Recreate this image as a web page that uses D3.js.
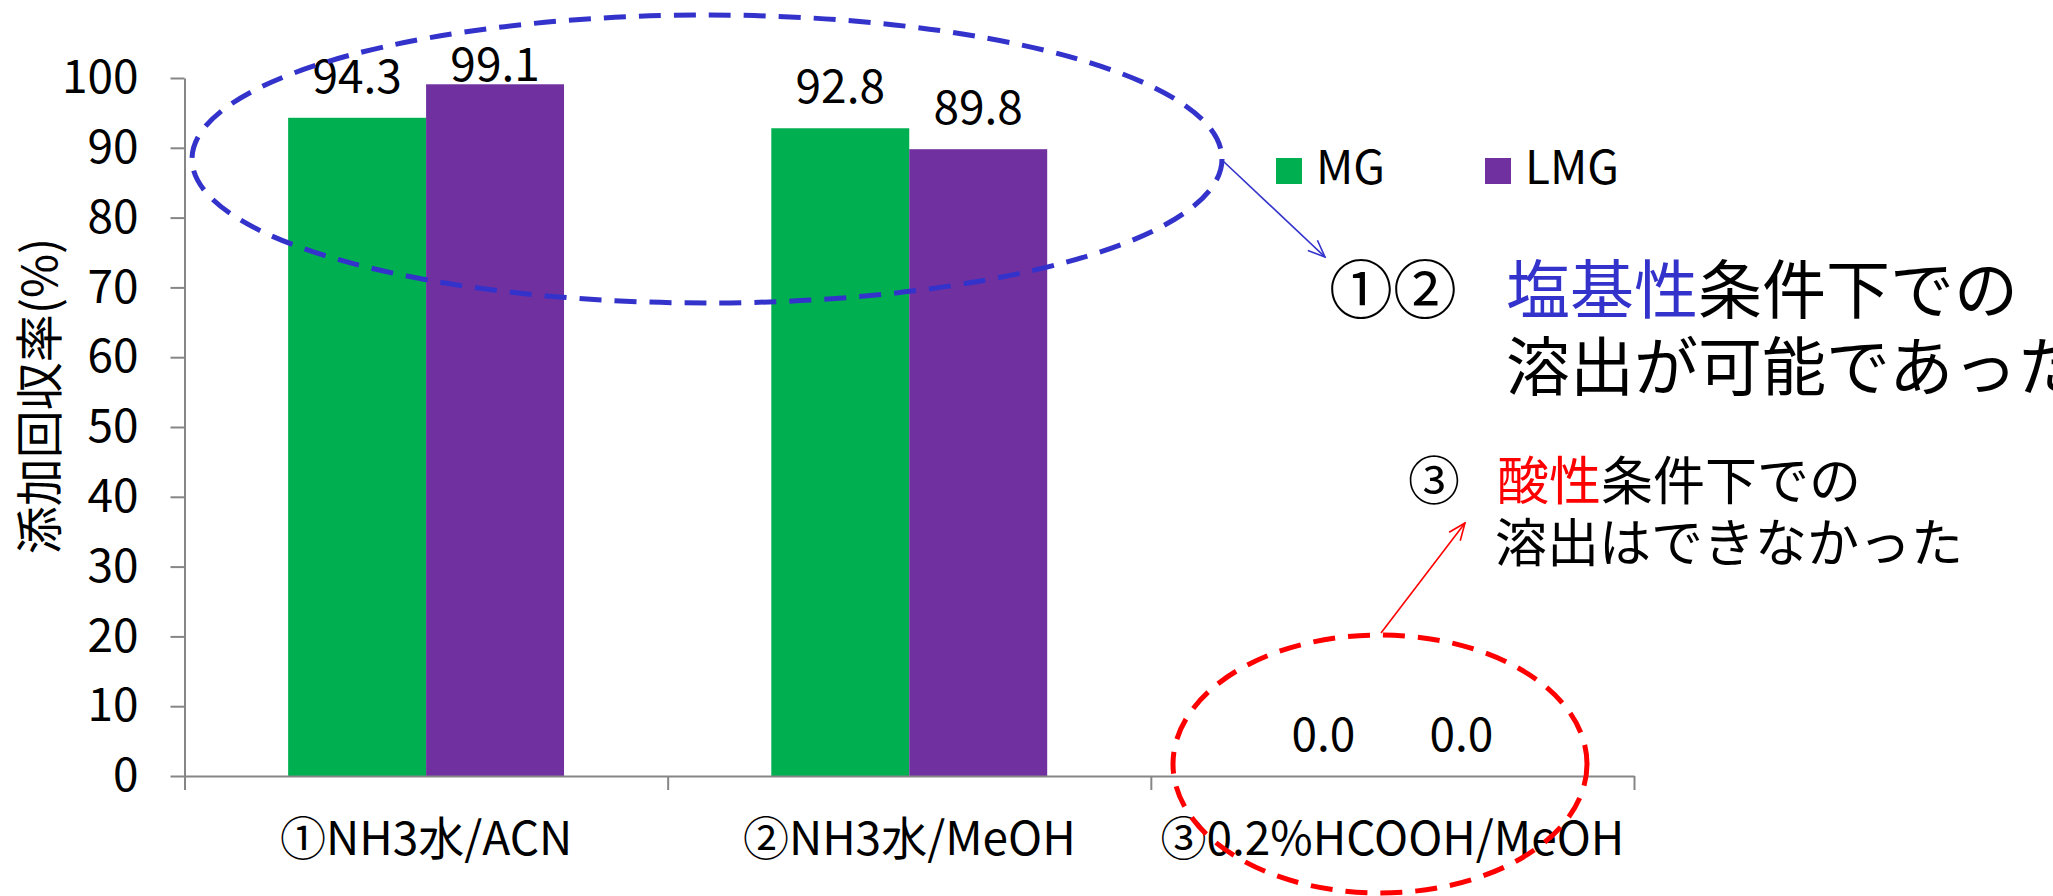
<!DOCTYPE html>
<html>
<head>
<meta charset="utf-8">
<script src="https://cdn.jsdelivr.net/npm/d3@7"></script>
<style>
  body { margin: 0; background: #fff; }
  text { font-family: "Noto Sans CJK JP", "Noto Sans", sans-serif; }
</style>
</head>
<body>
<script>
// data
var categories = ["①NH3水/ACN", "②NH3水/MeOH", "③0.2%HCOOH/MeOH"];
var seriesNames = ["MG", "LMG"];
var mgValues = [94.3, 92.8, 0.0];
var lmgValues = [99.1, 89.8, 0.0];
var yTickValues = [0, 10, 20, 30, 40, 50, 60, 70, 80, 90, 100];
var yTitle = "添加回収率(%)";

var colors = { MG: "#00B050", LMG: "#7030A0" };

var width = 2053, height = 896;

var svg = d3.select("body").append("svg")
    .attr("width", width)
    .attr("height", height);

// scales
var y = d3.scaleLinear().domain([0, 100]).range([776, 78]);

var x0 = d3.scaleBand()
    .domain(categories)
    .range([184.5, 1634]);

var bw = x0.bandwidth();
var x1 = d3.scaleBand()
    .domain(seriesNames)
    .range([bw * 0.2145, bw * 0.7855]);

var rows = categories.map(function(c, i) {
    return { cat: c, values: [
        { name: "MG", value: mgValues[i] },
        { name: "LMG", value: lmgValues[i] }
    ]};
});

// bars
var groups = svg.selectAll("g.group")
    .data(rows)
    .enter().append("g")
    .attr("class", "group")
    .attr("transform", function(d) { return "translate(" + x0(d.cat) + ",0)"; });

groups.selectAll("rect")
    .data(function(d) { return d.values; })
    .enter().append("rect")
    .attr("x", function(d) { return x1(d.name); })
    .attr("y", function(d) { return y(d.value); })
    .attr("width", x1.bandwidth())
    .attr("height", function(d) { return y(0) - y(d.value); })
    .attr("fill", function(d) { return colors[d.name]; });

// value labels (kept inside the chart area at the top)
groups.selectAll("text.val")
    .data(function(d) { return d.values; })
    .enter().append("text")
    .attr("class", "val")
    .attr("x", function(d) { return x1(d.name) + x1.bandwidth() / 2; })
    .attr("y", function(d) { return Math.max(y(d.value) - 25, 81); })
    .attr("text-anchor", "middle")
    .attr("font-size", 46)
    .text(function(d) { return d.value.toFixed(1); });

// y axis
var yAxis = svg.append("g")
    .attr("transform", "translate(184.5,0)")
    .call(d3.axisLeft(y).tickValues(yTickValues).tickSize(14).tickSizeOuter(0).tickPadding(32));
yAxis.selectAll("text").attr("font-size", 46).attr("fill", "#000")
    .style("font-family", '"Noto Sans CJK JP", sans-serif');

// x axis: boundary ticks
var xb = d3.scaleLinear().domain([0, categories.length]).range(x0.range());
var xAxis = svg.append("g")
    .attr("transform", "translate(0," + y(0) + ")")
    .call(d3.axisBottom(xb).tickValues(d3.range(0, categories.length + 1)).tickSize(14).tickSizeOuter(0).tickFormat(""));

// x axis: category labels
var xLabels = svg.append("g")
    .attr("transform", "translate(0," + y(0) + ")")
    .call(d3.axisBottom(x0).tickSize(0).tickPadding(46));
xLabels.select(".domain").remove();
xLabels.selectAll("text").attr("font-size", 46).attr("fill", "#000")
    .style("font-family", '"Noto Sans CJK JP", sans-serif');

svg.selectAll(".domain, .tick line")
    .attr("stroke", "#868686")
    .attr("stroke-width", 2);

// y title
svg.append("text")
    .attr("transform", "translate(36,396) rotate(-90)")
    .attr("text-anchor", "middle")
    .attr("dominant-baseline", "central")
    .attr("font-size", 48)
    .text(yTitle);

// legend
var legendX = [1276, 1485];
var legend = svg.selectAll("g.legend")
    .data(seriesNames)
    .enter().append("g")
    .attr("class", "legend")
    .attr("transform", function(d, i) { return "translate(" + legendX[i] + ",158)"; });
legend.append("rect")
    .attr("width", 26).attr("height", 26)
    .attr("fill", function(d) { return colors[d]; });
legend.append("text")
    .attr("x", 40).attr("y", 26)
    .attr("font-size", 46)
    .text(function(d) { return d; });

// arrow markers
var defs = svg.append("defs");
[["arrowBlue", "#3333CC"], ["arrowRed", "#FF0000"]].forEach(function(m) {
    defs.append("marker")
        .attr("id", m[0])
        .attr("viewBox", "0 0 20 20")
        .attr("refX", 19).attr("refY", 10)
        .attr("markerWidth", 20).attr("markerHeight", 20)
        .attr("markerUnits", "userSpaceOnUse")
        .attr("orient", "auto")
        .append("path")
        .attr("d", "M2,3 L19,10 L2,17")
        .attr("fill", "none")
        .attr("stroke", m[1])
        .attr("stroke-width", 1.6);
});

// dashed ellipses
svg.append("ellipse")
    .attr("cx", 707).attr("cy", 159).attr("rx", 515).attr("ry", 144)
    .attr("fill", "none").attr("stroke", "#3333CC")
    .attr("stroke-width", 5).attr("stroke-dasharray", "22 13");

svg.append("ellipse")
    .attr("cx", 1380).attr("cy", 764).attr("rx", 207).attr("ry", 129)
    .attr("fill", "none").attr("stroke", "#FF0000")
    .attr("stroke-width", 5).attr("stroke-dasharray", "22 13");

// arrows
svg.append("line")
    .attr("x1", 1222).attr("y1", 160).attr("x2", 1325).attr("y2", 257)
    .attr("stroke", "#3333CC").attr("stroke-width", 1.6)
    .attr("marker-end", "url(#arrowBlue)");

svg.append("line")
    .attr("x1", 1381).attr("y1", 633).attr("x2", 1465).attr("y2", 523)
    .attr("stroke", "#FF0000").attr("stroke-width", 1.6)
    .attr("marker-end", "url(#arrowRed)");

// annotation 1
var note1 = svg.append("g").attr("font-size", 64);
note1.append("text").attr("x", 1329).attr("y", 313).text("①②");
var t1 = note1.append("text").attr("x", 1506).attr("y", 313);
t1.append("tspan").attr("fill", "#3333CC").text("塩基性");
t1.append("tspan").text("条件下での");
note1.append("text").attr("x", 1506).attr("y", 390).text("溶出が可能であった");

// annotation 2
var note2 = svg.append("g").attr("font-size", 52);
note2.append("text").attr("x", 1408).attr("y", 500).text("③");
var t2 = note2.append("text").attr("x", 1497).attr("y", 500);
t2.append("tspan").attr("fill", "#FF0000").text("酸性");
t2.append("tspan").text("条件下での");
note2.append("text").attr("x", 1495).attr("y", 562).text("溶出はできなかった");
</script>
</body>
</html>
